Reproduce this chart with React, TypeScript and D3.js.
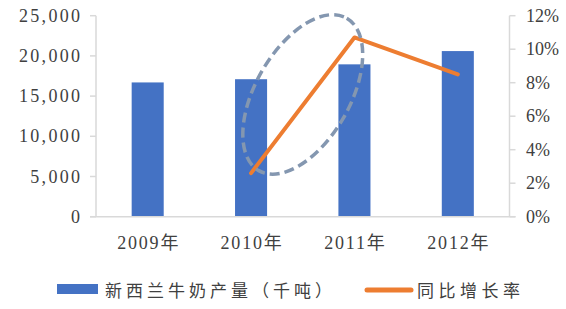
import React from "react";
import * as d3 from "d3";

const years = ["2009年", "2010年", "2011年", "2012年"];
const milkOutput = [16700, 17100, 18950, 20600];
const growthRate: (number | null)[] = [null, 2.6, 10.7, 8.5];
const leftTicks = [0, 5000, 10000, 15000, 20000, 25000];
const rightTicks = [0, 2, 4, 6, 8, 10, 12];
const seriesNames = ["新西兰牛奶产量（千吨）", "同比增长率"];
// annotation ellipse, expressed in data terms (between 2010 and 2011, centred at ~7.3%)
const highlightFrom = "2010年";
const highlightTo = "2011年";
const highlightCentre = 7.3;

const W = 566;
const H = 309;
const left = 96;
const right = 509.5;
const top = 15.7;
const bottom = 216.7;

const BLUE = "#4472C4";
const ORANGE = "#ED7D31";
const AXIS = "#D9D9D9";
const TEXT = "#404040";
const NUM_FONT = "'Liberation Serif', 'Noto Sans CJK SC', serif";
const CJK_FONT = "'Noto Sans CJK SC', sans-serif";

export default function App() {
  const x = d3
    .scaleBand<string>()
    .domain(years)
    .range([left, right])
    .paddingInner(0.69)
    .paddingOuter(0.345);
  const yL = d3.scaleLinear().domain([0, 25000]).range([bottom, top]);
  const yR = d3.scaleLinear().domain([0, 12]).range([bottom, top]);
  const cx = (c: string) => (x(c) as number) + x.bandwidth() / 2;
  const fmt = d3.format(",");

  const lineData = years.map((c, i) => ({ c, v: growthRate[i] }));
  const line = d3
    .line<{ c: string; v: number | null }>()
    .defined((d) => d.v != null)
    .x((d) => cx(d.c))
    .y((d) => yR(d.v as number));

  const ex = (cx(highlightFrom) + cx(highlightTo)) / 2;
  const ey = yR(highlightCentre);

  return (
    <div style={{ position: "fixed", left: 0, top: 0 }}>
      <svg width={W} height={H} style={{ display: "block", background: "#fff" }}>
        {/* bars */}
        {years.map((c, i) => (
          <rect
            key={c}
            x={x(c)}
            y={yL(milkOutput[i])}
            width={x.bandwidth()}
            height={bottom - yL(milkOutput[i])}
            fill={BLUE}
          />
        ))}

        {/* axes */}
        <line x1={left} x2={left} y1={top} y2={bottom} stroke={AXIS} strokeWidth={1.5} />
        <line x1={right} x2={right} y1={top} y2={bottom} stroke={AXIS} strokeWidth={1.5} />
        <line x1={left - 6} x2={right + 6} y1={bottom} y2={bottom} stroke={AXIS} strokeWidth={1.5} />
        {leftTicks.map((t) => (
          <g key={"l" + t}>
            <line x1={left - 6} x2={left} y1={yL(t)} y2={yL(t)} stroke={AXIS} strokeWidth={1.5} />
            <text
              x={80 + 2.3}
              y={yL(t)}
              dy="0.34em"
              textAnchor="end"
              fontFamily={NUM_FONT}
              fontSize={18}
              letterSpacing={2.3}
              fill={TEXT}
            >
              {fmt(t)}
            </text>
          </g>
        ))}
        {rightTicks.map((t) => (
          <g key={"r" + t}>
            <line x1={right} x2={right + 6} y1={yR(t)} y2={yR(t)} stroke={AXIS} strokeWidth={1.5} />
            <text
              x={526}
              y={yR(t)}
              dy="0.34em"
              textAnchor="start"
              fontFamily={NUM_FONT}
              fontSize={18}
              fill={TEXT}
            >
              {t}%
            </text>
          </g>
        ))}
        {years.map((c) => (
          <text
            key={"x" + c}
            x={cx(c) + 1}
            y={249}
            textAnchor="middle"
            fontFamily={NUM_FONT}
            fontSize={18}
            letterSpacing={1.8}
            fill={TEXT}
          >
            {c}
          </text>
        ))}

        {/* growth line */}
        <path
          d={line(lineData) || ""}
          fill="none"
          stroke={ORANGE}
          strokeWidth={4}
          strokeLinecap="round"
          strokeLinejoin="round"
        />

        {/* dashed highlight ellipse */}
        <ellipse
          cx={ex}
          cy={ey}
          rx={88}
          ry={47}
          transform={`rotate(-60 ${ex} ${ey})`}
          fill="none"
          stroke="#8497B0"
          strokeWidth={3.5}
          strokeDasharray="10 5"
        />

        {/* legend */}
        <rect x={57} y={284} width={41} height={10} fill={BLUE} />
        <text
          x={105}
          y={289}
          dominantBaseline="central"
          fontFamily={CJK_FONT}
          fontSize={17}
          letterSpacing={4}
          fill={TEXT}
        >
          {seriesNames[0]}
        </text>
        <line x1={367} x2={411} y1={290} y2={290} stroke={ORANGE} strokeWidth={5} strokeLinecap="round" />
        <text
          x={417}
          y={289}
          dominantBaseline="central"
          fontFamily={CJK_FONT}
          fontSize={17}
          letterSpacing={4.5}
          fill={TEXT}
        >
          {seriesNames[1]}
        </text>
      </svg>
    </div>
  );
}
